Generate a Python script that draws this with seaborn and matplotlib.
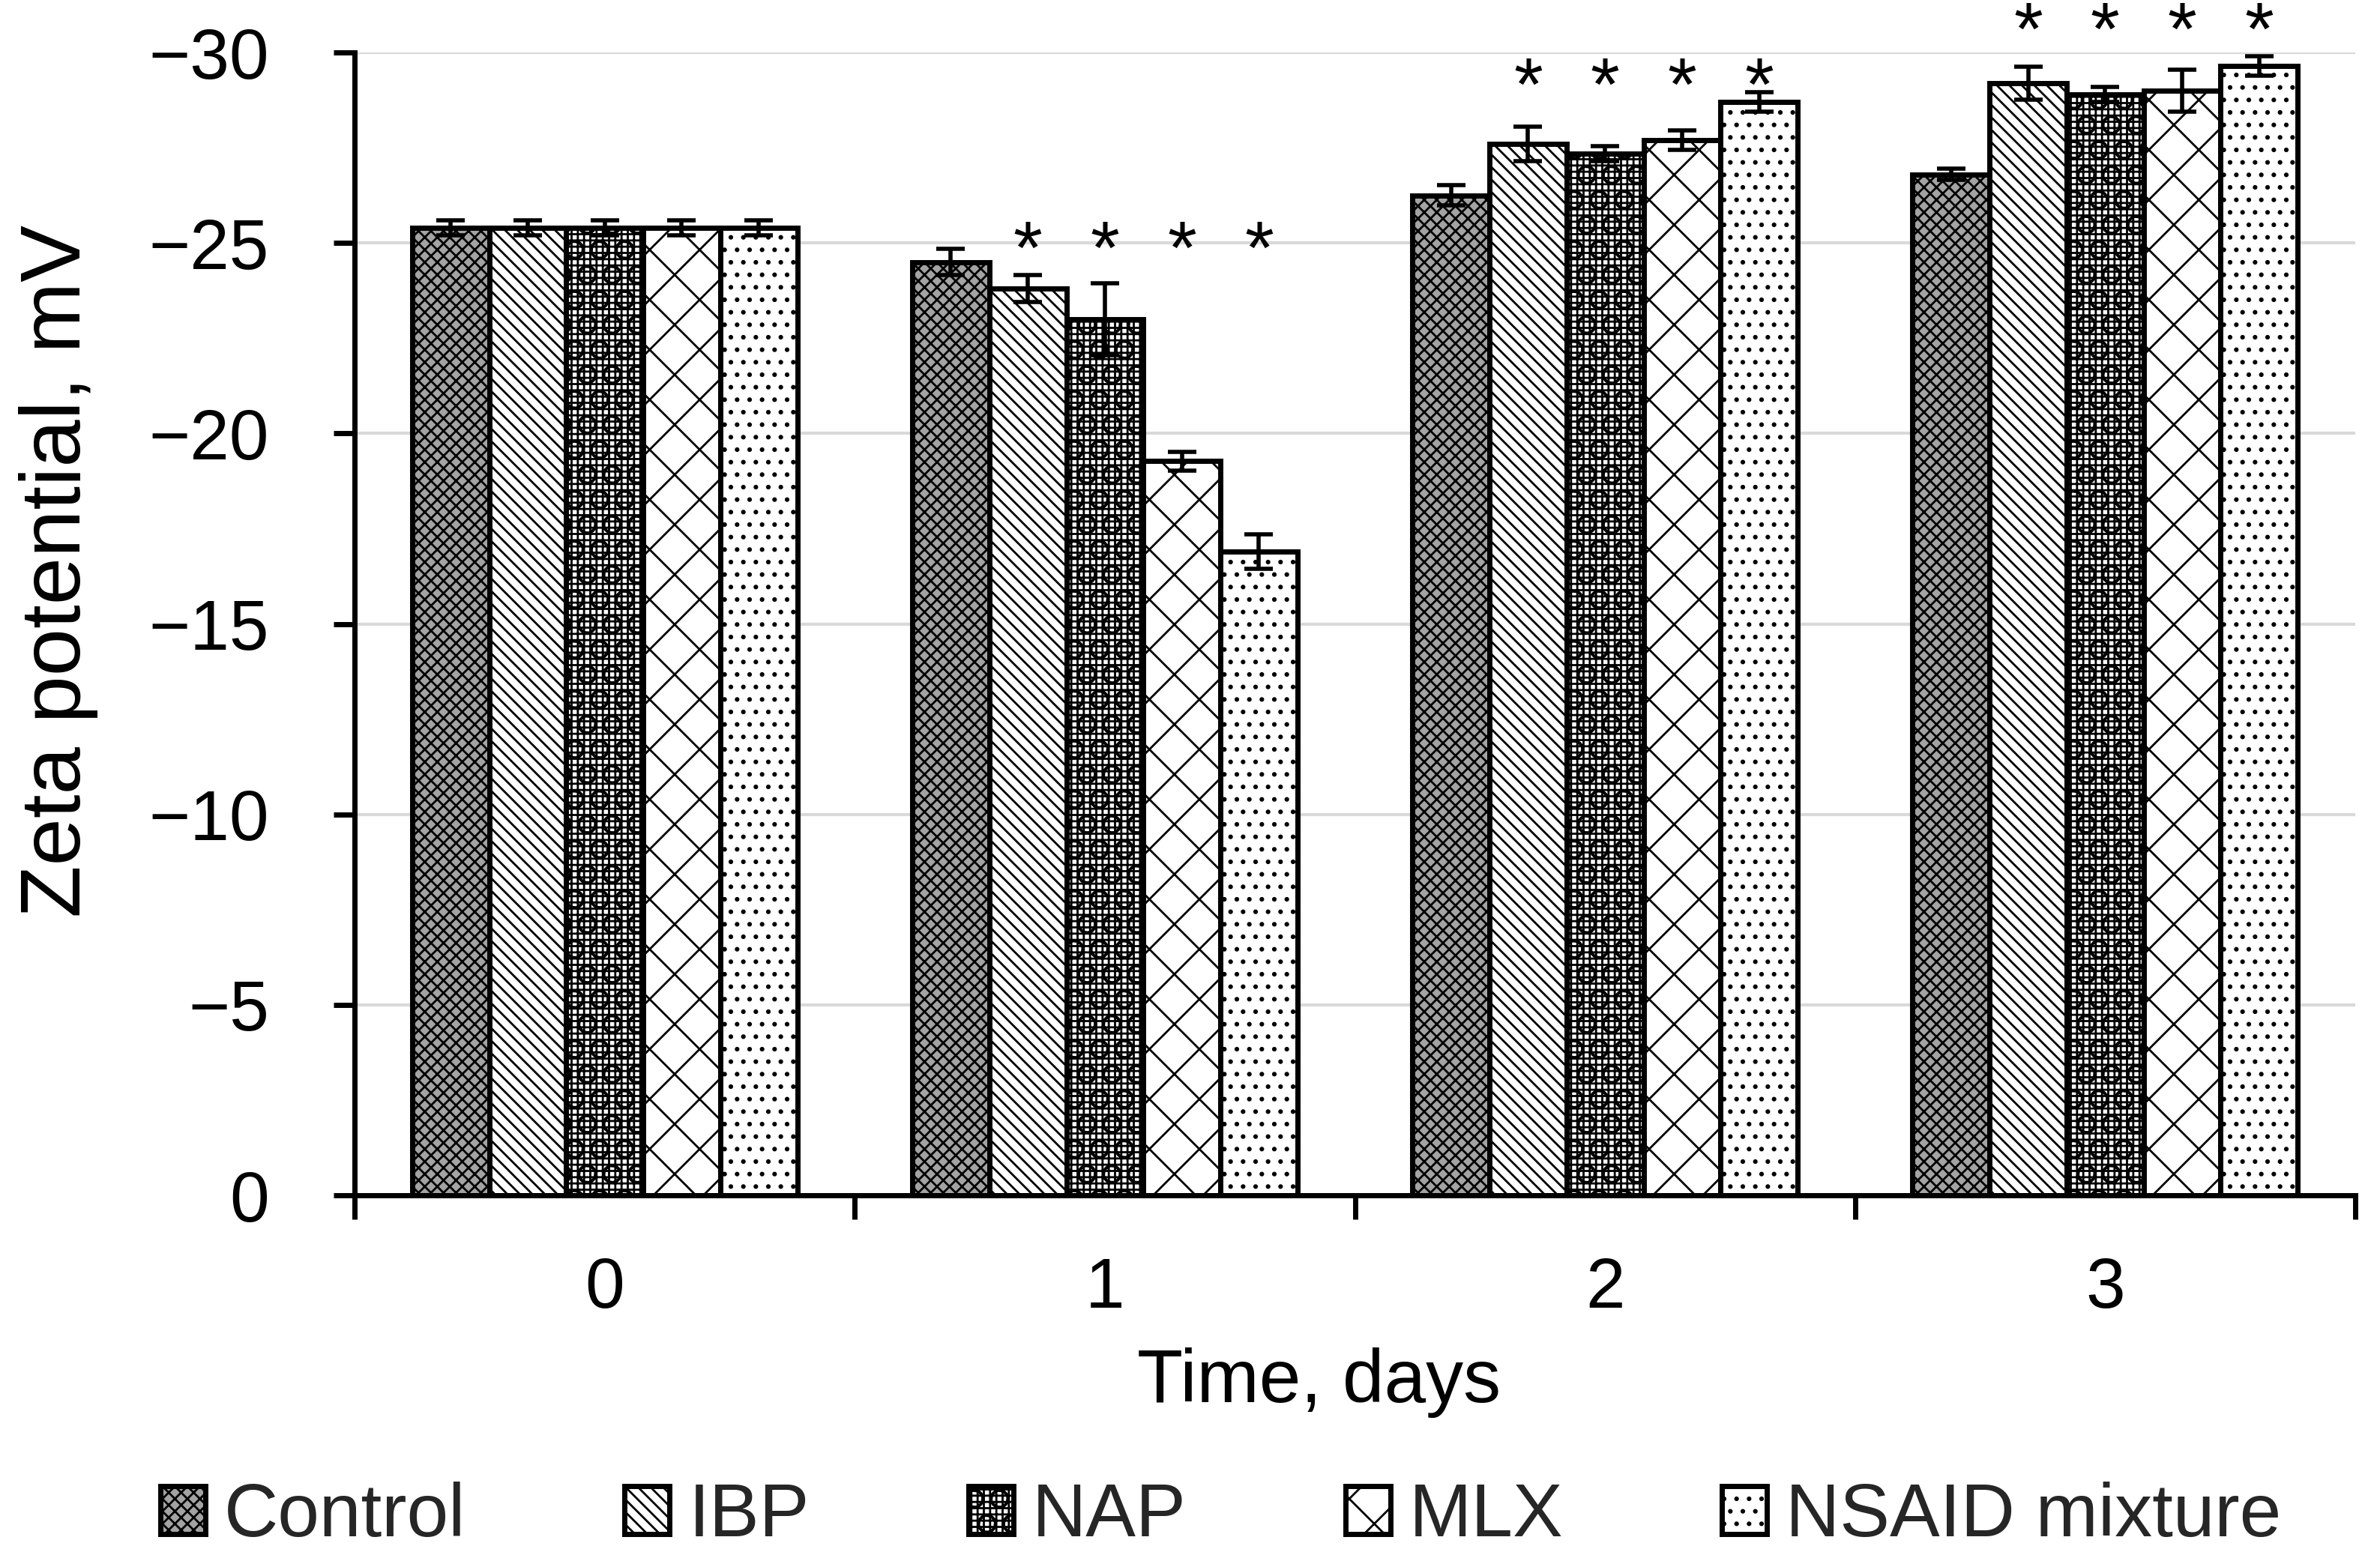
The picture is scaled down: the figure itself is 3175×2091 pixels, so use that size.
import matplotlib
matplotlib.use('Agg')
import matplotlib.pyplot as plt
import seaborn as sns
import numpy as np
import pandas as pd

# data (zeta potential, mV; mean and SD)
days = ['0', '1', '2', '3']
groups = ['Control', 'IBP', 'NAP', 'MLX', 'NSAID mixture']

control = [-25.4, -24.5, -26.25, -26.8]
ibp = [-25.4, -23.8, -27.6, -29.2]
nap = [-25.4, -23.0, -27.35, -28.9]
mlx = [-25.4, -19.27, -27.7, -29.0]
nsaid = [-25.4, -16.9, -28.7, -29.65]

control_sd = [0.2, 0.35, 0.26, 0.15]
ibp_sd = [0.2, 0.35, 0.46, 0.43]
nap_sd = [0.2, 0.95, 0.2, 0.2]
mlx_sd = [0.2, 0.25, 0.25, 0.55]
nsaid_sd = [0.2, 0.45, 0.25, 0.26]

# significance marks (*) above the drug groups, baseline per day
star_groups = ['IBP', 'NAP', 'MLX', 'NSAID mixture']
star_base = [None, -24.2, -28.5, -29.95]

means = [control, ibp, nap, mlx, nsaid]
sds = [control_sd, ibp_sd, nap_sd, mlx_sd, nsaid_sd]

rows = []
for g, vals, errs in zip(groups, means, sds):
    for d, v, e in zip(days, vals, errs):
        rows.append({'day': d, 'group': g, 'zeta': v, 'sd': e})
df = pd.DataFrame(rows)

sns.set_theme(style='white')
plt.rcParams['font.family'] = ['Liberation Sans', 'DejaVu Sans']
plt.rcParams['hatch.linewidth'] = 1.0

facecolors = {'Control': '#a3a3a3', 'IBP': 'white', 'NAP': 'white',
              'MLX': 'white', 'NSAID mixture': 'white'}
hatches = {'Control': 'xxxx', 'IBP': '\\\\\\\\', 'NAP': '++++O',
           'MLX': 'x', 'NSAID mixture': '..'}

FS = 34

fig = plt.figure(figsize=(15.875, 10.455), dpi=200)
ax = fig.add_axes([0.149, 0.2372, 0.8406, 0.7293])

sns.barplot(data=df, x='day', y='zeta', hue='group', order=days, hue_order=groups,
            palette=facecolors, saturation=1, width=0.77, errorbar=None,
            edgecolor='black', linewidth=2.5, legend=False, ax=ax)
bars = list(ax.containers)

for g, cont in zip(groups, bars):
    for p in cont.patches:
        p.set_hatch(hatches[g])
        p.set_edgecolor('black')

# error bars at bar centres
for g, cont, errs in zip(groups, bars, sds):
    xs = [p.get_x() + p.get_width() / 2 for p in cont.patches]
    ys = [p.get_height() for p in cont.patches]
    ax.errorbar(xs, ys, yerr=errs, fmt='none', ecolor='black',
                elinewidth=2.0, capsize=7, capthick=2.0, zorder=5)

# asterisks
for di, base in enumerate(star_base):
    if base is None:
        continue
    for g in star_groups:
        p = bars[groups.index(g)].patches[di]
        ax.text(p.get_x() + p.get_width() / 2, base, '*', ha='center', va='baseline',
                fontsize=FS + 2, color='black', clip_on=False, zorder=6)

ax.set_ylim(0, -30)
ax.set_yticks(np.arange(-30, 1, 5))
ax.yaxis.grid(True, color='#d9d9d9', linewidth=1.5)
ax.set_axisbelow(True)

ax.set_xticks(range(len(days)))
ax.set_xticklabels(days)
ax.set_xticks(np.arange(-0.5, len(days), 1.0), minor=True)
ax.set_xlim(-0.5, len(days) - 0.5)

for s in ['top', 'right']:
    ax.spines[s].set_visible(False)
for s in ['left', 'bottom']:
    ax.spines[s].set_color('black')
    ax.spines[s].set_linewidth(2.5)

ax.tick_params(axis='y', which='major', left=True, length=10, width=2.5,
               pad=31, labelsize=FS, colors='black')
ax.tick_params(axis='x', which='major', bottom=True, length=0, pad=29, labelsize=FS,
               colors='black')
ax.tick_params(axis='x', which='minor', bottom=True, length=11.5, width=2.5, color='black')

ax.set_xlabel('Time, days', fontsize=36, color='black')
ax.xaxis.set_label_coords(0.482, -0.133)
ax.set_ylabel('Zeta potential, mV', fontsize=41, color='black')
ax.yaxis.set_label_coords(-0.128, 0.546)

handles = [cont.patches[0] for cont in bars]
fig.legend(handles, groups, loc='center', bbox_to_anchor=(0.513, 0.032), ncol=5,
           frameon=False, fontsize=36, handlelength=0.6, handleheight=0.6,
           handletextpad=0.25, columnspacing=2.12, borderaxespad=0)

fig.savefig('out.png', dpi=200)
plt.close(fig)
